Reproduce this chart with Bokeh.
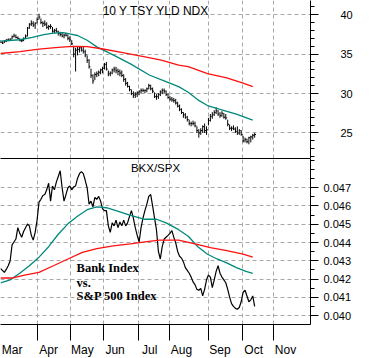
from bokeh.plotting import figure
from bokeh.layouts import column
from bokeh.models import (FixedTicker, Range1d, Label, LinearAxis,
                          PrintfTickFormatter, CustomJSTickFormatter, ColumnDataSource)
from bokeh.embed import file_html
from bokeh.resources import INLINE

# ---------------- data ----------------
months = ["Mar", "Apr", "May", "Jun", "Jul", "Aug", "Sep", "Oct", "Nov"]
month_starts = [0, 19, 36.5, 53.5, 71.5, 88, 108, 125.5, 142]   # session index of month start
session_end = 161

yld_high = [36.76, 36.64, 36.76, 36.88, 37.0, 37.0, 37.36, 37.6, 37.48, 37.24,
            37.0, 36.88, 37.12, 37.48, 38.44, 38.92, 39.28, 39.16, 39.04, 39.64,
            40.12, 39.52, 39.16, 39.28, 39.04, 38.68, 38.8, 38.44, 38.2, 38.32,
            37.96, 37.84, 37.72, 37.6, 37.72, 37.48, 37.24, 36.76, 36.04, 35.8,
            36.04, 35.92, 36.04, 35.92, 35.56, 34.84, 34.36, 33.16, 32.44, 32.68,
            32.8, 32.92, 33.16, 33.4, 33.88, 34.0, 32.92, 32.8, 33.16, 33.4,
            33.4, 33.16, 33.04, 32.92, 32.44, 31.96, 31.48, 31.0, 30.52, 30.28,
            30.16, 30.28, 30.4, 30.64, 30.64, 30.52, 30.76, 31.24, 31.12, 30.76,
            30.16, 29.92, 30.04, 30.4, 30.64, 30.64, 30.4, 30.04, 29.68, 29.56,
            29.44, 29.32, 28.96, 28.6, 28.12, 27.64, 27.52, 27.16, 26.68, 26.44,
            26.56, 26.44, 25.84, 25.48, 25.6, 25.96, 26.2, 25.84, 26.92, 27.4,
            27.64, 27.88, 28.24, 27.88, 27.64, 27.76, 27.52, 27.4, 26.68, 26.08,
            25.84, 25.96, 25.72, 25.84, 25.48, 25.36, 24.64, 24.4, 24.28, 24.52,
            24.64, 24.88, 25.0]
yld_low = [36.4, 36.28, 36.4, 36.52, 36.64, 36.76, 36.88, 37.12, 37.0, 36.88,
           36.64, 36.52, 36.64, 37.0, 37.24, 38.2, 38.56, 38.44, 38.2, 38.92,
           39.4, 38.8, 38.44, 38.56, 38.2, 38.08, 38.2, 37.72, 37.6, 37.72,
           37.36, 37.24, 37.12, 37.0, 37.24, 36.76, 36.52, 36.16, 34.6, 32.8,
           34.84, 35.2, 35.32, 35.08, 34.6, 33.88, 33.16, 31.96, 31.24, 31.72,
           32.08, 32.2, 32.44, 32.56, 33.04, 32.92, 32.2, 32.2, 32.44, 32.68,
           32.56, 32.32, 32.2, 32.08, 31.48, 31.0, 30.76, 30.28, 29.8, 29.44,
           29.44, 29.56, 29.8, 30.04, 30.16, 30.04, 30.16, 30.52, 30.4, 30.04,
           29.44, 29.2, 29.32, 29.68, 29.92, 30.04, 29.68, 29.32, 29.08, 28.96,
           28.84, 28.6, 28.24, 27.76, 27.4, 26.92, 26.8, 26.44, 25.96, 25.84,
           25.96, 25.72, 25.0, 24.4, 24.76, 25.0, 25.0, 24.76, 25.96, 26.44,
           26.8, 27.16, 27.4, 27.16, 26.92, 27.04, 26.8, 26.68, 25.84, 25.36,
           25.24, 25.36, 25.0, 24.76, 24.76, 24.64, 23.8, 23.8, 23.68, 23.56,
           23.8, 24.16, 24.4]
yld_close = [36.5, 36.4, 36.6, 36.8, 36.8, 36.9, 37.2, 37.3, 37.1, 37.0,
             36.7, 36.7, 37.0, 37.3, 38.3, 38.8, 38.9, 38.7, 38.9, 39.4,
             39.7, 39.0, 38.9, 38.8, 38.4, 38.5, 38.5, 37.9, 38.0, 37.9,
             37.6, 37.5, 37.3, 37.4, 37.4, 37.0, 36.8, 36.3, 35.0, 35.5,
             35.6, 35.8, 35.5, 35.3, 34.9, 34.2, 33.4, 32.3, 31.6, 32.4,
             32.5, 32.7, 33.0, 33.2, 33.7, 33.1, 32.5, 32.6, 33.0, 33.1,
             32.9, 32.8, 32.6, 32.3, 31.8, 31.3, 30.9, 30.5, 30.0, 29.8,
             29.9, 30.1, 30.3, 30.4, 30.4, 30.4, 30.6, 31.0, 30.6, 30.3,
             29.6, 29.6, 29.9, 30.2, 30.4, 30.3, 29.9, 29.5, 29.3, 29.2,
             29.1, 28.8, 28.4, 28.0, 27.6, 27.3, 27.0, 26.7, 26.2, 26.2,
             26.2, 25.9, 25.3, 25.0, 25.3, 25.8, 25.3, 25.4, 26.6, 27.1,
             27.3, 27.6, 27.8, 27.4, 27.2, 27.5, 27.0, 26.9, 26.1, 25.6,
             25.6, 25.5, 25.2, 25.0, 25.3, 24.8, 24.0, 24.2, 23.9, 24.4,
             24.5, 24.7, 24.8]

yld_ma50_x = [0, 10, 16.5, 22.5, 27.5, 32.5, 36.5, 40, 45, 50, 55, 60, 67.5, 77.5,
              85, 92.5, 97.5, 102.5, 107.5, 114, 122.5, 131]
yld_ma50 = [36.64, 36.82, 37.12, 37.48, 37.66, 37.72, 37.54, 37.36, 36.76, 35.92, 35.32,
            34.72, 33.76, 32.32, 31.6, 30.88, 30.16, 29.2, 28.48, 28.0, 27.4, 26.62]
yld_ma200_x = [0, 10, 20, 30, 37.5, 45, 52.5, 63.5, 75, 83.5, 92.5, 97.5, 107.5, 117.5, 126, 131]
yld_ma200 = [35.08, 35.32, 35.62, 35.86, 35.98, 35.96, 35.68, 35.2, 34.66, 34.24,
             33.6, 33.4, 32.52, 32.0, 31.32, 30.88]

ratio = [0.04258, 0.04248, 0.04237, 0.04253, 0.04273, 0.04299, 0.04387, 0.04403, 0.04419, 0.04481,
         0.04450, 0.04429, 0.04460, 0.04481, 0.04501, 0.04491, 0.04439, 0.04413, 0.04455, 0.04522,
         0.04621, 0.04636, 0.04657, 0.04662, 0.04688, 0.04724, 0.04626, 0.04709, 0.04688, 0.04730,
         0.04761, 0.04792, 0.04699, 0.04626, 0.04662, 0.04699, 0.04709, 0.04688, 0.04704, 0.04709,
         0.04750, 0.04776, 0.04787, 0.04776, 0.04740, 0.04699, 0.04610, 0.04626, 0.04595, 0.04647,
         0.04636, 0.04652, 0.04626, 0.04584, 0.04574, 0.04574, 0.04491, 0.04455, 0.04507, 0.04491,
         0.04522, 0.04481, 0.04512, 0.04491, 0.04522, 0.04491, 0.04507, 0.04543, 0.04574, 0.04533,
         0.04481, 0.04439, 0.04403, 0.04481, 0.04533, 0.04574, 0.04610, 0.04652, 0.04662, 0.04600,
         0.04533, 0.04470, 0.04351, 0.04310, 0.04378, 0.04419, 0.04429, 0.04439, 0.04450, 0.04465,
         0.04429, 0.04398, 0.04351, 0.04325, 0.04315, 0.04294, 0.04263, 0.04248, 0.04232, 0.04211,
         0.04185, 0.04170, 0.04144, 0.04139, 0.04149, 0.04108, 0.04144, 0.04196, 0.04222, 0.04211,
         0.04154, 0.04196, 0.04242, 0.04273, 0.04232, 0.04211, 0.04196, 0.04180, 0.04144, 0.04102,
         0.04066, 0.04051, 0.04040, 0.04035, 0.04045, 0.04076, 0.04128, 0.04139, 0.04108, 0.04076,
         0.04087, 0.04108, 0.04051]
ratio_ma50_x = [0, 5, 10, 15, 20, 25, 30, 35, 40, 45, 50, 55, 60, 67.5, 75, 81, 86,
                92.5, 97.5, 102.5, 107.5, 112.5, 117.5, 122.5, 127.5, 131]
ratio_ma50 = [0.04180, 0.04196, 0.04232, 0.04273, 0.04320, 0.04377, 0.04445, 0.04502, 0.04543,
              0.04579, 0.04595, 0.04590, 0.04574, 0.04548, 0.04527, 0.04527, 0.04507, 0.04470,
              0.04434, 0.04377, 0.04336, 0.04310, 0.04289, 0.04263, 0.04242, 0.04232]
ratio_ma200_x = [0, 6, 12.5, 20, 27.5, 35, 42.5, 50, 58.5, 67.5, 75, 82.5, 92.5, 101, 109, 117.5, 126, 131]
ratio_ma200 = [0.04206, 0.04206, 0.04222, 0.04237, 0.04273, 0.04310, 0.04346, 0.04367, 0.04382,
               0.04393, 0.04403, 0.04413, 0.04413, 0.04393, 0.04372, 0.04356, 0.04336, 0.04320]

yld_ticks = [25, 30, 35, 40]
ratio_ticks = [0.040, 0.041, 0.042, 0.043, 0.044, 0.045, 0.046, 0.047]

# ---------------- styles ----------------
FONT = "Liberation Sans"
TEAL = "#00897b"
RED = "#ff1010"
GRID = "#a8a8a8"
FW = 310

session = list(range(len(yld_high)))
x_range = Range1d(0, session_end)


def style_y(p, ticks, minor, standoff, fmt=None):
    ax = p.yaxis[0]
    ax.ticker = FixedTicker(ticks=ticks, minor_ticks=minor)
    ax.axis_line_color = "black"
    ax.major_tick_line_color = "black"
    ax.minor_tick_line_color = "black"
    ax.major_tick_in = 0
    ax.major_tick_out = 8
    ax.minor_tick_in = 0
    ax.minor_tick_out = 4
    ax.major_label_text_font = FONT
    ax.major_label_text_font_size = "11px"
    ax.major_label_text_color = "black"
    ax.major_label_standoff = standoff
    if fmt is not None:
        ax.formatter = fmt


def style_grid(p):
    p.xgrid.ticker = FixedTicker(ticks=month_starts[1:])
    for g in (p.xgrid[0], p.ygrid[0]):
        g.grid_line_color = GRID
        g.grid_line_dash = "4 3"
        g.grid_line_width = 1


# ---------------- top panel ----------------
top = figure(frame_width=FW, frame_height=158, x_range=x_range,
             y_range=Range1d(21.76, 41.8), output_backend="svg",
             toolbar_location=None, x_axis_location=None, y_axis_location="right",
             min_border=0, outline_line_color=None, background_fill_color="white")
style_y(top, yld_ticks, list(range(22, 42)), 22)
style_grid(top)

src = ColumnDataSource(dict(x=session, h=yld_high, l=yld_low, c=yld_close,
                            xc=[s + 0.7 for s in session]))
top.segment(x0="x", y0="l", x1="x", y1="h", source=src, line_color="black", line_width=1)
top.segment(x0="x", y0="c", x1="xc", y1="c", source=src, line_color="black", line_width=1)
top.line(yld_ma50_x, yld_ma50, line_color=TEAL, line_width=1.3)
top.line(yld_ma200_x, yld_ma200, line_color=RED, line_width=1.3)
top.add_layout(Label(x=80.75, y=40.45, text="10 Y TSY YLD NDX", text_font=FONT,
                     text_font_size="12px", text_align="center",
                     text_baseline="middle", text_color="black"))

# ---------------- bottom panel ----------------
bot = figure(frame_width=FW, frame_height=166, x_range=x_range,
             y_range=Range1d(0.03952, 0.04859), output_backend="svg",
             toolbar_location=None, y_axis_location="right",
             min_border=0, outline_line_color=None, background_fill_color="white")
style_y(bot, ratio_ticks, [0.0395 + 0.0005 * k for k in range(19)], 5,
        PrintfTickFormatter(format="%.3f"))
style_grid(bot)

label_pos = [m + 6 for m in month_starts]
xa = bot.xaxis[0]
xa.ticker = FixedTicker(ticks=label_pos, minor_ticks=month_starts[1:])
xa.formatter = CustomJSTickFormatter(args=dict(pos=label_pos, names=months),
                                     code="const i = pos.indexOf(tick); return i >= 0 ? names[i] : '';")
xa.major_tick_out = 0
xa.major_tick_in = 0
xa.minor_tick_in = 0
xa.minor_tick_out = 16
xa.minor_tick_line_color = "black"
xa.axis_line_color = "black"
xa.major_label_standoff = 2
xa.major_label_text_font = FONT
xa.major_label_text_font_size = "12px"
xa.major_label_text_color = "black"

sep = LinearAxis(ticker=FixedTicker(ticks=[]), major_label_text_font_size="0px",
                 major_tick_out=0, major_tick_in=0, minor_tick_out=0, minor_tick_in=0,
                 major_label_standoff=0, axis_line_color="black")
bot.add_layout(sep, "above")

bot.line(session, ratio, line_color="black", line_width=1.2)
bot.line(ratio_ma50_x, ratio_ma50, line_color=TEAL, line_width=1.3)
bot.line(ratio_ma200_x, ratio_ma200, line_color=RED, line_width=1.3)
bot.add_layout(Label(x=80.5, y=0.04807, text="BKX/SPX", text_font=FONT,
                     text_font_size="11.5px", text_align="center",
                     text_baseline="middle", text_color="black"))
for txt, yy in (("Bank Index", 0.04263), ("vs.", 0.04180), ("S&P 500 Index", 0.04108)):
    bot.add_layout(Label(x=39.5, y=yy, text=txt, text_font="Liberation Serif",
                         text_font_style="bold", text_font_size="12.5px",
                         text_align="left", text_baseline="middle", text_color="black"))

layout = column(top, bot, spacing=0)
open("out.html", "w").write(file_html(layout, INLINE))
